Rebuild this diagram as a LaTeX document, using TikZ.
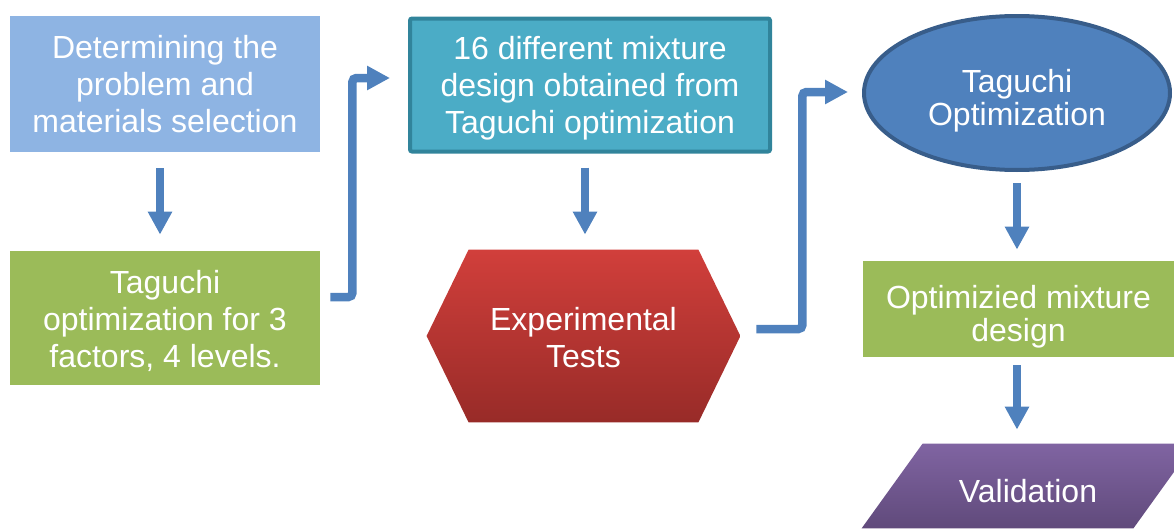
\documentclass[tikz,border=0pt]{standalone}
\usepackage{fontspec}
\setmainfont{Liberation Sans}
\usetikzlibrary{arrows.meta, positioning, shapes.geometric, backgrounds}

\definecolor{probblue}{HTML}{8EB4E3}
\definecolor{taggreen}{HTML}{9BBB59}
\definecolor{mixteal}{HTML}{4BACC6}
\definecolor{mixedge}{HTML}{31849B}
\definecolor{optblue}{HTML}{4F81BD}
\definecolor{optedge}{HTML}{385D8A}
\definecolor{redtop}{HTML}{D13F3B}
\definecolor{redbot}{HTML}{982B28}
\definecolor{purptop}{HTML}{8064A2}
\definecolor{purpbot}{HTML}{604A7B}

\begin{document}
\begin{tikzpicture}[x=0.5pt, y=-0.5pt,
    flow/.style={line width=4.25pt, draw=optblue, -{Triangle[width=11.5pt, length=11.5pt]}},
    txt/.style={text=white, align=center, inner sep=0pt, font=\fontsize{16}{18.5}\selectfont},
    tight/.style={font=\fontsize{16}{16.5}\selectfont}]

    \useasboundingbox (0,0) rectangle (1174,530);
    \clip (0,0) rectangle (1174,530);

    % left column
    \node[txt, fill=probblue, minimum width=155pt, minimum height=68pt] (prob) at (165,84)
        {Determining the\\problem and\\materials selection};
    \node[txt, fill=taggreen, minimum width=155pt, minimum height=67pt] (tag) at (165,318) {};
    \node[txt] (tag-t) at ([yshift=-1.5pt]tag.center) {Taguchi\\optimization for 3\\factors, 4 levels.};

    % middle column
    \node[fill=mixteal, draw=mixedge, line width=2pt, rounded corners=1pt,
          minimum width=180pt, minimum height=66.5pt] (mix) at (590,85) {};
    \node[txt] (mix-t) at ([yshift=-1.5pt]mix.center) {16 different mixture\\design obtained from\\Taguchi optimization};
    \node[txt, minimum width=156.5pt, minimum height=86pt] (test) at (583.5,336) {};
    \node[txt] (test-t) at ([yshift=-1pt]test.center) {Experimental\\Tests};

    % right column
    \node[ellipse, fill=optblue, draw=optedge, line width=2pt,
          minimum width=153pt, minimum height=77pt] (taguchi) at (1017,93) {};
    \node[txt, tight] (taguchi-t) at ([yshift=-3.75pt]taguchi.center) {Taguchi\\Optimization};
    \node[fill=taggreen, minimum width=155.5pt, minimum height=48pt] (opt) at (1018.5,309) {};
    \node[txt, tight] (opt-t) at ([yshift=-3.75pt]opt.center) {Optimizied mixture\\design};
    \node[minimum width=135.5pt, minimum height=42pt] (valid) at (1028,486) {};
    \node[txt] (valid-t) at ([yshift=-2.5pt]valid.center) {Validation};

    \begin{scope}[on background layer]
        % hexagon behind the tests
        \shade[top color=redtop, bottom color=redbot]
            (test.west) -- ([xshift=21pt]test.north west) -- ([xshift=-21pt]test.north east)
            -- (test.east) -- ([xshift=-21pt]test.south east) -- ([xshift=21pt]test.south west) -- cycle;
        % parallelogram behind validation
        \shade[top color=purptop, bottom color=purpbot]
            ([xshift=-15.25pt]valid.south west) -- ([xshift=15.25pt]valid.north west)
            -- ([xshift=15.25pt]valid.north east) -- ([xshift=-15.25pt]valid.south east) -- cycle;
    \end{scope}

    % arrows
    \draw[flow, shorten <=8pt, shorten >=8pt] ([xshift=-2.5pt]prob.south) -- ([xshift=-2.5pt]tag.north);
    \draw[flow, rounded corners=2pt] ([shift={(10,-21)}]tag.east) -- ++(22,0) |- ([shift={(-18,-7)}]mix.west);
    \draw[flow, shorten <=7pt, shorten >=7.5pt] ([xshift=-2.5pt]mix.south) -- ([xshift=-2.5pt]mix.south |- test.north);
    \draw[flow, rounded corners=2pt] ([shift={(16,-7)}]test.east) -- ++(46,0) |- ([shift={(-14,-1)}]taguchi.west);
    \draw[flow, shorten <=5.5pt, shorten >=5.5pt] (taguchi.south) -- (taguchi.south |- opt.north);
    \draw[flow, shorten <=4pt, shorten >=7pt] (opt.south -| taguchi.south) -- (taguchi.south |- valid.north);

\end{tikzpicture}
\end{document}
